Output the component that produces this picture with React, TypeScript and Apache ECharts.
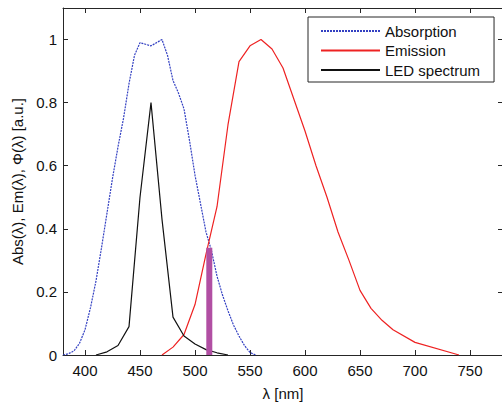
import React, { useEffect, useRef } from "react";
import * as echarts from "echarts";

const absWl = [380, 385, 390, 395, 400, 405, 410, 415, 420, 425, 430, 435, 440, 445, 450, 455, 460, 465, 470, 475, 480, 485, 490, 495, 500, 505, 510, 515, 520, 525, 530, 535, 540, 545, 550, 555];
const absVal = [0, 0.004, 0.013, 0.037, 0.08, 0.15, 0.235, 0.34, 0.45, 0.56, 0.66, 0.75, 0.86, 0.95, 0.99, 0.985, 0.98, 0.99, 1.0, 0.95, 0.87, 0.83, 0.78, 0.68, 0.57, 0.48, 0.39, 0.33, 0.25, 0.19, 0.14, 0.095, 0.06, 0.03, 0.008, 0];

const emWl = [470, 480, 490, 500, 510, 520, 530, 540, 550, 560, 570, 580, 590, 600, 610, 620, 630, 640, 650, 660, 670, 680, 700, 740];
const emVal = [0, 0.025, 0.065, 0.16, 0.32, 0.47, 0.73, 0.93, 0.98, 1.0, 0.97, 0.91, 0.81, 0.71, 0.6, 0.5, 0.39, 0.3, 0.205, 0.148, 0.11, 0.08, 0.04, 0];

const ledWl = [410, 420, 430, 440, 450, 460, 470, 480, 490, 500, 510, 520, 530];
const ledVal = [0, 0.01, 0.03, 0.09, 0.5, 0.8, 0.43, 0.12, 0.06, 0.035, 0.017, 0.007, 0];

const markerWl = [513, 513];
const markerVal = [0, 0.34];

const seriesNames = ["Absorption", "Emission", "LED spectrum"];
const xName = "λ [nm]";
const yName = "Abs(λ), Em(λ), Φ(λ) [a.u.]";

const FONT = "Liberation Sans, Arial, Helvetica, sans-serif";
const AX = "#262626";
const TXT = "#111";

const pairs = (xs: number[], ys: number[]) => xs.map((x, i) => [x, ys[i]]);

export default function App() {
  const ref = useRef<HTMLDivElement>(null);
  useEffect(() => {
    if (!ref.current) return;
    const chart = echarts.init(ref.current, null, { renderer: "svg" });
    const axisCommon = {
      axisLine: { show: true, onZero: false, lineStyle: { color: AX, width: 1 } },
      axisTick: { show: true, inside: true, length: 5, lineStyle: { color: AX } },
      splitLine: { show: false },
    };
    chart.setOption({
      animation: false,
      backgroundColor: "#fff",
      textStyle: { fontFamily: FONT },
      grid: { left: 63, right: -1, top: 8, bottom: 48, containLabel: false, outerBoundsMode: "none" },
      legend: {
        data: seriesNames,
        orient: "vertical",
        left: 308,
        top: 17,
        padding: [6.5, 14, 4.5, 12],
        itemWidth: 59,
        itemHeight: 14,
        itemGap: 4.5,
        borderColor: AX,
        borderWidth: 1,
        borderRadius: 0,
        backgroundColor: "#fff",
        itemStyle: { opacity: 0 },
        textStyle: { fontFamily: FONT, fontSize: 15, color: TXT },
      },
      xAxis: [
        {
          type: "value",
          min: 380,
          max: 780,
          splitNumber: 8,
          name: xName,
          nameLocation: "middle",
          nameGap: 31,
          nameTextStyle: { fontFamily: FONT, fontSize: 15, color: TXT },
          axisLabel: {
            fontFamily: FONT,
            fontSize: 15,
            color: TXT,
            margin: 8,
            showMinLabel: false,
            showMaxLabel: false,
          },
          ...axisCommon,
        },
        {
          type: "value",
          position: "top",
          min: 380,
          max: 780,
          splitNumber: 8,
          axisLabel: { show: false },
          ...axisCommon,
        },
      ],
      yAxis: [
        {
          type: "value",
          min: 0,
          max: 1.1,
          interval: 0.2,
          name: yName,
          nameLocation: "middle",
          nameGap: 38,
          nameRotate: 90,
          nameTextStyle: { fontFamily: FONT, fontSize: 15, color: TXT },
          axisLabel: {
            fontFamily: FONT,
            fontSize: 15,
            color: TXT,
            margin: 6,
            showMaxLabel: false,
          },
          ...axisCommon,
        },
        {
          type: "value",
          position: "right",
          min: 0,
          max: 1.1,
          interval: 0.2,
          axisLabel: { show: false },
          ...axisCommon,
        },
      ],
      series: [
        {
          name: seriesNames[0],
          type: "line",
          data: pairs(absWl, absVal),
          symbol: "none",
          lineStyle: { color: "#3340c2", width: 1.2, type: [2, 1] },
          itemStyle: { color: "#3340c2" },
        },
        {
          name: seriesNames[1],
          type: "line",
          data: pairs(emWl, emVal),
          symbol: "none",
          lineStyle: { color: "#ee2222", width: 1.2 },
          itemStyle: { color: "#ee2222" },
        },
        {
          name: seriesNames[2],
          type: "line",
          data: pairs(ledWl, ledVal),
          symbol: "none",
          lineStyle: { color: "#111111", width: 1.2 },
          itemStyle: { color: "#111111" },
        },
        {
          name: "marker",
          type: "line",
          data: pairs(markerWl, markerVal),
          symbol: "none",
          lineStyle: { color: "#b14fa3", width: 6, cap: "butt" },
          itemStyle: { color: "#b14fa3" },
          z: 5,
        },
      ],
    });
    return () => chart.dispose();
  }, []);
  return (
    <div
      ref={ref}
      style={{ position: "fixed", left: 0, top: 0, width: 502, height: 403 }}
    />
  );
}
